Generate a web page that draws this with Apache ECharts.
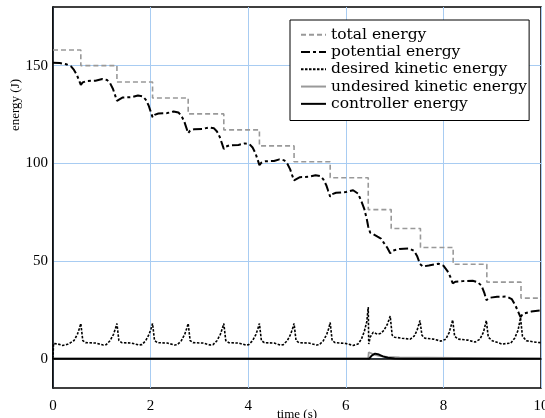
<!DOCTYPE html>
<html>
<head>
<meta charset="utf-8">
<script src="https://cdn.jsdelivr.net/npm/echarts@6/dist/echarts.min.js"></script>
<style>
  html, body { margin: 0; padding: 0; background: #fff; }
  #chart { width: 545px; height: 418px; }
</style>
</head>
<body>
<div id="chart"></div>
<script>
// values, [time (s), energy (J)]
const totalEnergy = [
    [0, 158], [0.57, 150], [1.31, 141.6], [2.04, 133.4], [2.77, 125.3], [3.50, 117.1],
    [4.23, 108.9], [4.94, 100.8], [5.68, 92.6], [6.46, 76.3], [6.93, 66.6], [7.53, 56.9],
    [8.20, 48.3], [8.89, 39.2], [9.59, 31.0], [10, 31.0]
];

const potentialEnergy = [
    [0, 151.5], [0.14, 151.3], [0.27, 150.7], [0.37, 149.6], [0.43, 147.8], [0.49, 145.2], [0.53, 142.6], [0.57, 140.2],
    [0.61, 141.4], [0.69, 142.1], [0.87, 142.3], [1.01, 143.1], [1.11, 142.6], [1.17, 141.0], [1.23, 138.0], [1.27, 135.0], [1.31, 132.0],
    [1.35, 133.0], [1.43, 133.7], [1.61, 133.9], [1.74, 134.7], [1.84, 134.2], [1.90, 132.6], [1.96, 129.6], [2.00, 126.6], [2.04, 123.6],
    [2.08, 124.8], [2.16, 125.5], [2.34, 125.7], [2.47, 126.5], [2.57, 126.0], [2.63, 124.4], [2.69, 121.4], [2.73, 118.4], [2.77, 115.4],
    [2.81, 116.7], [2.89, 117.4], [3.07, 117.6], [3.20, 118.4], [3.30, 117.9], [3.36, 116.3], [3.42, 113.3], [3.46, 110.3], [3.50, 107.3],
    [3.54, 108.5], [3.62, 109.2], [3.80, 109.4], [3.93, 110.2], [4.03, 109.7], [4.09, 108.1], [4.15, 105.1], [4.19, 102.1], [4.23, 99.1],
    [4.27, 100.3], [4.35, 101.0], [4.53, 101.2], [4.64, 102.0], [4.74, 101.5], [4.80, 99.9], [4.86, 96.9], [4.90, 93.9], [4.94, 91.3],
    [4.98, 92.2], [5.06, 92.9], [5.24, 93.1], [5.38, 93.9], [5.48, 93.4], [5.54, 91.8], [5.60, 88.8], [5.64, 85.8], [5.68, 82.9],
    [5.72, 84.2], [5.80, 84.9], [6.00, 85.3], [6.15, 86.2], [6.25, 84.5], [6.32, 80.5], [6.38, 76.5], [6.43, 71.5], [6.46, 67.5],
    [6.50, 64.5], [6.56, 63.8], [6.65, 62.5], [6.72, 61.5], [6.78, 59.3], [6.85, 56.8], [6.91, 54.0],
    [6.97, 55.4], [7.10, 56.2], [7.30, 56.4], [7.40, 55.2], [7.46, 52.6], [7.52, 48.5],
    [7.58, 47.2], [7.70, 47.7], [7.90, 48.6], [8.00, 47.6], [8.08, 45.0], [8.14, 42.0], [8.19, 38.6],
    [8.25, 39.4], [8.40, 39.7], [8.60, 39.9], [8.70, 39.2], [8.78, 37.4], [8.84, 33.6], [8.88, 30.0],
    [8.95, 31.2], [9.10, 31.7], [9.30, 31.8], [9.40, 30.5], [9.48, 27.0], [9.54, 23.6], [9.58, 21.3],
    [9.63, 23.0], [9.80, 24.1], [10, 24.7]
];

const desiredKinetic = [
    [0, 0], [0.01, 7.8], [0.10, 7.5], [0.20, 6.8], [0.30, 7.4], [0.36, 8.2], [0.43, 9.3], [0.50, 12.5], [0.54, 15.5], [0.57, 18.0],
    [0.61, 9.3], [0.67, 8.2], [0.87, 8.0], [1.03, 7.0], [1.09, 7.2], [1.17, 9.2], [1.24, 12.5], [1.28, 15.5], [1.31, 18.0],
    [1.35, 9.3], [1.41, 8.2], [1.61, 8.0], [1.76, 7.0], [1.82, 7.2], [1.90, 9.2], [1.97, 12.5], [2.01, 15.5], [2.04, 18.0],
    [2.08, 9.3], [2.14, 8.2], [2.34, 8.0], [2.49, 7.0], [2.55, 7.2], [2.63, 9.2], [2.70, 12.5], [2.74, 15.5], [2.77, 18.0],
    [2.81, 9.3], [2.87, 8.2], [3.07, 8.0], [3.22, 7.0], [3.28, 7.2], [3.36, 9.2], [3.43, 12.5], [3.47, 15.5], [3.50, 18.0],
    [3.54, 9.3], [3.60, 8.2], [3.80, 8.0], [3.95, 7.0], [4.01, 7.2], [4.09, 9.2], [4.16, 12.5], [4.20, 15.5], [4.23, 18.0],
    [4.27, 9.3], [4.33, 8.2], [4.53, 8.0], [4.66, 7.0], [4.72, 7.2], [4.80, 9.2], [4.87, 12.5], [4.91, 15.5], [4.94, 18.0],
    [4.98, 9.3], [5.04, 8.2], [5.24, 8.0], [5.40, 7.0], [5.46, 7.2], [5.54, 9.2], [5.61, 12.5], [5.65, 15.5], [5.68, 18.5],
    [5.72, 9.3], [5.78, 8.2], [6.00, 7.8], [6.15, 6.8], [6.25, 7.5], [6.32, 10.0], [6.38, 14.0], [6.43, 19.0], [6.46, 26.4],
    [6.47, 7.5], [6.50, 11.0], [6.56, 13.5], [6.65, 12.5], [6.72, 13.0], [6.78, 14.5], [6.85, 17.5], [6.91, 21.8],
    [6.95, 12.0], [7.00, 11.0], [7.15, 10.5], [7.32, 10.0], [7.40, 11.5], [7.46, 14.5], [7.52, 19.5],
    [7.56, 12.0], [7.62, 10.5], [7.80, 10.0], [7.95, 9.0], [8.05, 10.0], [8.12, 13.5], [8.19, 19.8],
    [8.23, 11.5], [8.30, 10.0], [8.50, 9.5], [8.65, 8.5], [8.75, 10.0], [8.82, 13.5], [8.88, 19.5],
    [8.92, 11.0], [9.00, 9.2], [9.20, 7.5], [9.38, 8.0], [9.46, 10.5], [9.53, 14.5], [9.58, 21.0],
    [9.62, 11.5], [9.70, 9.2], [9.90, 8.4], [10, 8.2]
];

const undesiredKinetic = [
    [0, 0], [6.46, 0], [6.47, 3.3], [6.52, 2.8], [6.60, 2.0], [6.70, 1.3], [6.85, 0.9], [7.10, 0.6], [7.12, 0], [10, 0]
];

const controllerEnergy = [
    [0, 0], [6.48, 0], [6.53, 1.6], [6.60, 2.6], [6.68, 2.1], [6.76, 1.2], [6.86, 0.5], [7.00, 0.15], [7.20, 0], [10, 0]
];

const yTicks = [0, 50, 100, 150];

const serif = '"Liberation Serif", "Times New Roman", serif';
const gridBlue = '#a8ccf2';

let chart = echarts.init(document.getElementById('chart'));

chart.setOption({
    animation: false,
    backgroundColor: '#fff',
    grid: {
        left: 53, right: 4, top: 7, bottom: 30,
        outerBoundsMode: 'none',   // let the "10" label run off the edge like the original
        show: true,
        borderColor: '#000',
        borderWidth: 1.5
    },
    legend: {
        orient: 'vertical',
        left: 290,
        top: 20,
        padding: [6, 2, 8, 10],
        itemWidth: 25,
        itemHeight: 10,
        itemGap: 0,
        backgroundColor: '#fff',
        borderColor: '#000',
        borderWidth: 1,
        itemStyle: { opacity: 0 },   // hide the symbol, keep only the line
        textStyle: { fontFamily: '"DejaVu Serif", serif', fontSize: 15.5, color: '#000', lineHeight: 17.3 },
        data: ['total energy', 'potential energy', 'desired kinetic energy', 'undesired kinetic energy', 'controller energy']
    },
    xAxis: {
        type: 'value',
        min: 0,
        max: 10,
        interval: 2,
        name: 'time (s)',
        nameLocation: 'middle',
        nameGap: 20,
        nameMoveOverlap: false,
        nameTextStyle: { fontFamily: serif, fontSize: 13, color: '#000' },
        axisLine: { lineStyle: { color: '#000', width: 1.5 } },
        axisTick: { show: false },
        axisLabel: { fontFamily: serif, fontSize: 15, color: '#000', margin: 11 },
        splitLine: { show: true, lineStyle: { color: gridBlue, width: 1 } }
    },
    yAxis: {
        type: 'value',
        min: -15,
        max: 180,
        axisLine: { show: true, lineStyle: { color: '#000', width: 1.5 } },
        axisTick: { show: false, customValues: yTicks },
        axisLabel: { fontFamily: serif, fontSize: 15, color: '#000', margin: 5, customValues: yTicks },
        splitLine: { show: true, lineStyle: { color: gridBlue, width: 1 } }
    },
    graphic: [{
        type: 'text',
        x: 16,
        y: 105,
        rotation: Math.PI / 2,
        style: {
            text: 'energy (J)',
            fontFamily: serif,
            fontSize: 13,
            fill: '#000',
            textAlign: 'center',
            textVerticalAlign: 'middle'
        }
    }],
    series: [
        {
            name: 'total energy', type: 'line', step: 'end', symbol: 'none',
            data: totalEnergy,
            lineStyle: { color: '#999', width: 1.6, type: [5, 3] },
            itemStyle: { color: '#999' }
        },
        {
            name: 'potential energy', type: 'line', symbol: 'none',
            data: potentialEnergy,
            lineStyle: { color: '#000', width: 2, type: [9, 3, 3, 3] },
            itemStyle: { color: '#000' }
        },
        {
            name: 'desired kinetic energy', type: 'line', symbol: 'none',
            data: desiredKinetic,
            lineStyle: { color: '#000', width: 1.6, type: [2.5, 1.5] },
            itemStyle: { color: '#000' }
        },
        {
            name: 'undesired kinetic energy', type: 'line', symbol: 'none',
            data: undesiredKinetic,
            lineStyle: { color: '#999', width: 1.8 },
            itemStyle: { color: '#999' }
        },
        {
            name: 'controller energy', type: 'line', symbol: 'none',
            data: controllerEnergy,
            lineStyle: { color: '#000', width: 2 },
            itemStyle: { color: '#000' }
        }
    ]
});
</script>
</body>
</html>
